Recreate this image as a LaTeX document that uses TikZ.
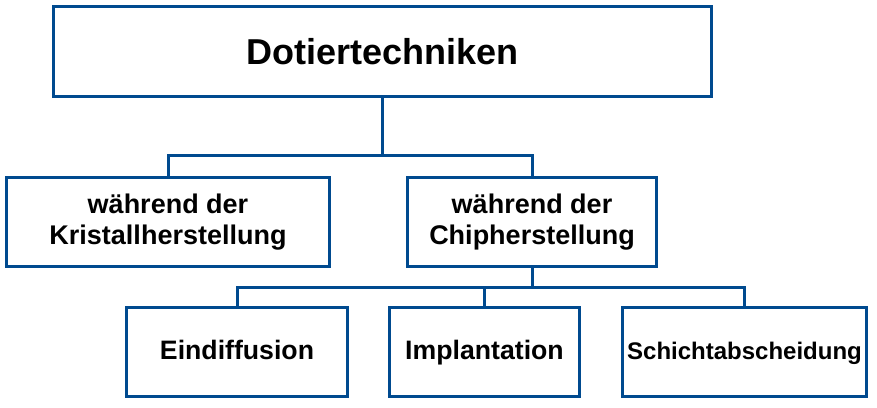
\documentclass[tikz,border=0pt]{standalone}
\usepackage{fontspec}
\setmainfont{Liberation Sans}
\usepackage{tikz}
\definecolor{dotblue}{RGB}{0,74,143}

\begin{document}
\begin{tikzpicture}[x=0.75pt, y=-0.75pt, line width=2.25pt, draw=dotblue,
			every node/.style={draw=dotblue, line width=2.25pt, fill=white, align=center, inner sep=0pt, minimum height=67pt},
			big/.style={font=\fontsize{27}{32}\selectfont\bfseries},
			mid/.style={font=\fontsize{20.25}{23.25}\selectfont\bfseries},
			small/.style={font=\fontsize{20}{24}\selectfont\bfseries, text height=1.35em, text depth=0.25em}]
			\useasboundingbox (0,0) rectangle (877,407);

			\node[big, minimum width=493.5pt, minimum height=67.5pt] (dotier) at (382.5,51.5) {Dotiertechniken};
			\node[mid, minimum width=242pt] (kristall) at (168,222) {während der\\Kristallherstellung};
			\node[mid, minimum width=187pt] (chip) at (532,222) {während der\\Chipherstellung};
			\node[small, minimum width=166pt] (eindiff) at (237,352) {Eindiffusion};
			\node[small, minimum width=142.5pt] (implant) at (484.5,352) {Implantation};
			\node[small, font=\fontsize{18}{22}\selectfont\bfseries, minimum width=183pt] (schicht) at (744.5,352) {Schichtabscheidung};

			\coordinate (j1) at (382,155);
			\coordinate (j2) at (531,287);
			\draw[dotblue] (dotier.south) -- (dotier.south |- j1) -| (kristall.north);
			\draw[dotblue] (dotier.south |- j1) -| (chip.north);
			\draw[dotblue] (chip.south) -- (chip.south |- j2) -| (eindiff.north);
			\draw[dotblue] (chip.south |- j2) -| (implant.north);
			\draw[dotblue] (chip.south |- j2) -| (schicht.north);
	\end{tikzpicture}
\end{document}
